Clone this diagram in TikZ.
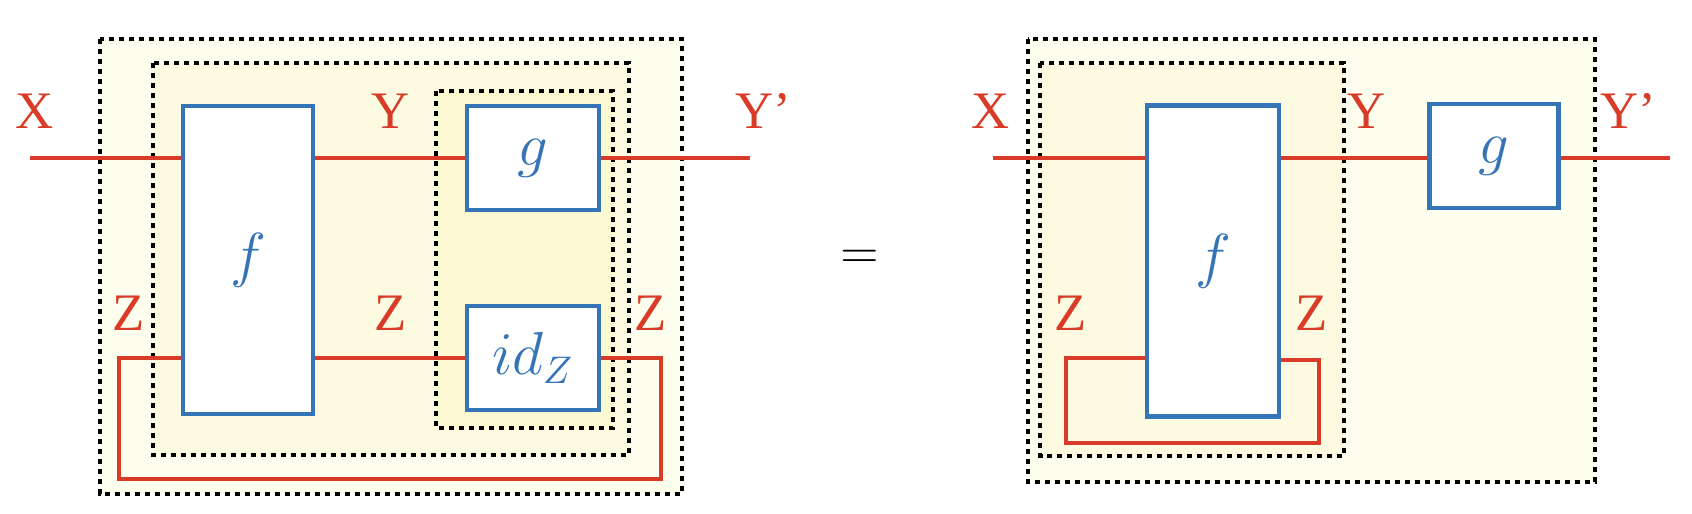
\documentclass[tikz,border=0pt]{standalone}
\usepackage{amsmath}
\usepackage{fontspec}
\usepackage{tikz}
\usetikzlibrary{calc}
\setmainfont{Liberation Serif}
\definecolor{wirered}{HTML}{D83B27}
\definecolor{boxblue}{HTML}{3574B6}
\definecolor{fillouter}{HTML}{FEFEEE}
\definecolor{fillmid}{HTML}{FCFBE2}
\definecolor{fillinner}{HTML}{FBF8D2}
\tikzset{
  procbox/.style={draw=boxblue,fill=white,line width=1.3pt,inner sep=0pt,
    font=\fontsize{16}{18}\selectfont,text=boxblue},
  wire/.style={wirered,line width=1.1pt},
  wirelabel/.style={text=wirered,font=\fontsize{15}{17}\selectfont},
  region/.style={draw=black,line width=0.9pt,dash pattern=on 0.55mm off 0.45mm}
}

\begin{document}
\begin{tikzpicture}[x=0.1mm,y=-0.1mm]
  \useasboundingbox (0,0) rectangle (1692,514);
  % left: nested regions
  \draw[region,fill=fillouter] (100,39) rectangle (682,494);
  \draw[region,fill=fillmid] (153,63) rectangle (629,455);
  \draw[region,fill=fillinner] (436,91) rectangle (613,428);
  \node[procbox,minimum width=13mm,minimum height=30.8mm] (fL) at (248,260) {$f$};
  \node[procbox,minimum width=13.2mm,minimum height=10.4mm] (gL) at (533,158) {$g$};
  \node[procbox,minimum width=13.2mm,minimum height=10.4mm] (idL) at (533,358) {$id_Z$};
  \coordinate (xinL) at (30,158);
  \coordinate (youtL) at (750,158);
  \coordinate (zrL) at (661,479);
  \coordinate (zlL) at (119,479);
  \draw[wire] (xinL) -- (xinL -| fL.west);
  \draw[wire] (fL.east |- gL) -- (gL.west);
  \draw[wire] (gL.east) -- (youtL);
  \draw[wire] (fL.east |- idL) -- (idL.west);
  \draw[wire] (idL.east) -| (zrL) -- (zlL) |- (fL.west |- idL);
  \node[wirelabel] (xL) at (35,111) {X};
  \node[wirelabel] (yL) at (391,111) {Y};
  \node[wirelabel] (ypL) at (763,111) {Y’};
  \node[wirelabel] (z1L) at (129,313) {Z};
  \node[wirelabel] (z2L) at (391,313) {Z};
  \node[wirelabel] (z3L) at (651,313) {Z};

  \node[font=\fontsize{15}{18}\selectfont] (eq) at (860,259) {$=$};

  % right: f traced, then g
  \draw[region,fill=fillouter] (1028,39) rectangle (1595,482);
  \draw[region,fill=fillmid] (1040,63) rectangle (1344,456);
  \node[procbox,minimum width=13.2mm,minimum height=31.1mm] (fR) at (1213,261) {$f$};
  \node[procbox,minimum width=12.9mm,minimum height=10.4mm] (gR) at (1494,156) {$g$};
  \coordinate (xinR) at (993,158);
  \coordinate (youtR) at (1670,158);
  \coordinate (zlR) at (1066,443);
  \coordinate (zrR) at (1319,443);
  \draw[wire] (xinR) -- (xinR -| fR.west);
  \draw[wire] (fR.east |- xinR) -- (gR.west |- xinR);
  \draw[wire] (gR.east |- xinR) -- (youtR);
  \draw[wire] ($(fR.west)+(0,97)$) -| (zlR) -- (zrR) |- ($(fR.east)+(0,99)$);
  \node[wirelabel] (xR) at (991,111) {X};
  \node[wirelabel] (yR) at (1367,111) {Y};
  \node[wirelabel] (ypR) at (1628,111) {Y’};
  \node[wirelabel] (z1R) at (1071,313) {Z};
  \node[wirelabel] (z2R) at (1312,313) {Z};
\end{tikzpicture}
\end{document}
